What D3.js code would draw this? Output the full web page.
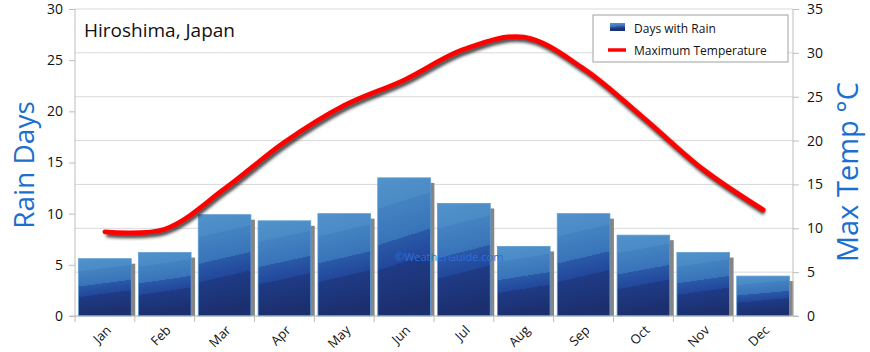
<!DOCTYPE html>
<html>
  <head>
    <meta charset="utf-8" />
    <title>Hiroshima climate</title>
    <script src="https://d3js.org/d3.v7.min.js"></script>
    <style>
      body {
        margin: 0;
        background-color: white;
      }
      text {
        font-family: "Open Sans", "DejaVu Sans", sans-serif;
      }
    </style>
  </head>
  <body>
    <svg id="chart"></svg>

    <script>

      // chart data
      var months = ["Jan", "Feb", "Mar", "Apr", "May", "Jun", "Jul", "Aug", "Sep", "Oct", "Nov", "Dec"];
      var rainDays = [5.6, 6.2, 9.9, 9.3, 10.0, 13.5, 11.0, 6.8, 10.0, 7.9, 6.2, 3.9];
      var maxTemp = [9.6, 9.9, 14.5, 19.8, 24.0, 26.9, 30.4, 31.8, 28.2, 22.6, 16.7, 12.1];
      var leftTicks = [0, 5, 10, 15, 20, 25, 30];
      var rightTicks = [0, 5, 10, 15, 20, 25, 30, 35];

      var width = 870;
      var height = 352;
      var margin = { top: 9, right: 77, bottom: 36, left: 75 };
      var plotRight = width - margin.right;
      var plotBottom = height - margin.bottom;

      var svg = d3.select("#chart")
        .attr("width", width)
        .attr("height", height);

      var defs = svg.append("defs");

      // bar fill, darker towards the bottom with slanted bands
      var grad = defs.append("linearGradient")
        .attr("id", "barGrad")
        .attr("x1", 0.12).attr("y1", 1)
        .attr("x2", 0).attr("y2", 0);
      var stops = [
        [0, "#1b2f6e"], [0.34, "#1f3b86"], [0.34, "#22479a"],
        [0.52, "#2a59a8"], [0.52, "#3873b8"], [0.78, "#4483c2"],
        [0.78, "#4a8ac6"], [1, "#5393cb"]
      ];
      stops.forEach(function(s) {
        grad.append("stop").attr("offset", s[0]).attr("stop-color", s[1]);
      });

      var blur = defs.append("filter").attr("id", "blur")
        .attr("x", "-10%").attr("y", "-10%").attr("width", "120%").attr("height", "120%");
      blur.append("feGaussianBlur").attr("stdDeviation", 1.6);

      var x = d3.scaleBand()
        .domain(months)
        .range([margin.left, plotRight])
        .paddingInner(0.12)
        .paddingOuter(0.06);

      var yLeft = d3.scaleLinear()
        .domain([0, 30])
        .range([plotBottom, margin.top]);

      var yRight = d3.scaleLinear()
        .domain([0, 35])
        .range([plotBottom, margin.top]);

      // grid lines follow the right axis
      svg.append("g")
        .selectAll("line")
        .data(rightTicks)
        .enter().append("line")
        .attr("x1", margin.left)
        .attr("x2", plotRight)
        .attr("y1", function(d) { return yRight(d); })
        .attr("y2", function(d) { return yRight(d); })
        .attr("stroke", "#d9d9d9");

      // bars with shadow
      var bars = svg.append("g");
      bars.selectAll(".shadow")
        .data(rainDays)
        .enter().append("rect")
        .attr("class", "shadow")
        .attr("x", function(d, i) { return x(months[i]) + 4; })
        .attr("y", function(d) { return yLeft(d) + 5; })
        .attr("width", x.bandwidth())
        .attr("height", function(d) { return plotBottom - yLeft(d) - 5; })
        .attr("fill", "#858585");

      bars.selectAll(".bar")
        .data(rainDays)
        .enter().append("rect")
        .attr("class", "bar")
        .attr("x", function(d, i) { return x(months[i]); })
        .attr("y", function(d) { return yLeft(d); })
        .attr("width", x.bandwidth())
        .attr("height", function(d) { return plotBottom - yLeft(d); })
        .attr("fill", "url(#barGrad)")
        .attr("stroke", "#5c9bd2")
        .attr("stroke-width", 0.8);

      // watermark
      svg.append("text")
        .attr("x", 395)
        .attr("y", 261)
        .attr("font-size", 11)
        .attr("fill", "#2c70dc")
        .text("©WeatherGuide.com");

      // axes lines
      svg.append("line")
        .attr("x1", margin.left).attr("x2", margin.left)
        .attr("y1", margin.top).attr("y2", plotBottom)
        .attr("stroke", "#bdbdbd");
      svg.append("line")
        .attr("x1", plotRight).attr("x2", plotRight)
        .attr("y1", margin.top).attr("y2", plotBottom)
        .attr("stroke", "#bdbdbd");
      svg.append("line")
        .attr("x1", margin.left - 5).attr("x2", plotRight + 5)
        .attr("y1", plotBottom).attr("y2", plotBottom)
        .attr("stroke", "#bdbdbd");

      var leftAxis = d3.axisLeft(yLeft).tickValues(leftTicks).tickSize(6).tickPadding(6);
      var gl = svg.append("g")
        .attr("transform", "translate(" + margin.left + ",0)")
        .call(leftAxis);

      var rightAxis = d3.axisRight(yRight).tickValues(rightTicks).tickSize(6).tickPadding(8);
      var gr = svg.append("g")
        .attr("transform", "translate(" + plotRight + ",0)")
        .call(rightAxis);

      [gl, gr].forEach(function(g) {
        g.select(".domain").remove();
        g.selectAll("line").attr("stroke", "#bdbdbd");
        g.selectAll("text")
          .attr("font-size", 14)
          .attr("fill", "#111")
          .style("font-family", "'Open Sans', sans-serif");
      });

      // month ticks between bars
      var step = x.step();
      svg.append("g")
        .selectAll("line")
        .data(months)
        .enter().append("line")
        .attr("x1", function(d) { return x(d) - step * x.paddingInner() / 2; })
        .attr("x2", function(d) { return x(d) - step * x.paddingInner() / 2; })
        .attr("y1", plotBottom)
        .attr("y2", plotBottom + 6)
        .attr("stroke", "#bdbdbd");

      svg.append("g")
        .selectAll("text")
        .data(months)
        .enter().append("text")
        .attr("transform", function(d) {
          return "translate(" + (x(d) + x.bandwidth() / 2 + 7) + "," + (plotBottom + 15) + ") rotate(-45)";
        })
        .attr("text-anchor", "end")
        .attr("font-size", 13)
        .attr("fill", "#111")
        .text(function(d) { return d; });

      // temperature line with its shadow
      var line = d3.line()
        .x(function(d, i) { return x(months[i]) + x.bandwidth() / 2; })
        .y(function(d) { return yRight(d); })
        .curve(d3.curveCatmullRom.alpha(0.5));

      svg.append("path")
        .datum(maxTemp)
        .attr("d", line)
        .attr("transform", "translate(1.5,3)")
        .attr("fill", "none")
        .attr("stroke", "#222")
        .attr("stroke-opacity", 0.8)
        .attr("stroke-width", 5)
        .attr("filter", "url(#blur)");

      svg.append("path")
        .datum(maxTemp)
        .attr("d", line)
        .attr("fill", "none")
        .attr("stroke", "#ff0000")
        .attr("stroke-width", 4.8)
        .attr("stroke-linecap", "round");

      // titles
      svg.append("text")
        .attr("x", 84)
        .attr("y", 37)
        .attr("font-size", 19)
        .attr("fill", "#111")
        .text("Hiroshima, Japan");

      svg.append("text")
        .attr("transform", "translate(34,165) rotate(-90)")
        .attr("text-anchor", "middle")
        .attr("font-size", 28)
        .attr("fill", "#1a6fd0")
        .text("Rain Days");

      svg.append("text")
        .attr("transform", "translate(858,172) rotate(-90)")
        .attr("text-anchor", "middle")
        .attr("font-size", 29)
        .attr("fill", "#1a6fd0")
        .text("Max Temp °C");

      // legend
      var legend = svg.append("g");
      legend.append("rect")
        .attr("x", 593).attr("y", 15)
        .attr("width", 195).attr("height", 47)
        .attr("fill", "white")
        .attr("stroke", "#a0a0a0");
      legend.append("rect")
        .attr("x", 610).attr("y", 23)
        .attr("width", 15).attr("height", 8)
        .attr("fill", "url(#barGrad)");
      legend.append("text")
        .attr("x", 634).attr("y", 33)
        .attr("font-size", 12)
        .attr("fill", "#111")
        .text("Days with Rain");
      legend.append("line")
        .attr("x1", 608).attr("x2", 626)
        .attr("y1", 50).attr("y2", 50)
        .attr("stroke", "#ff0000")
        .attr("stroke-width", 3.5);
      legend.append("text")
        .attr("x", 634).attr("y", 55)
        .attr("font-size", 12)
        .attr("fill", "#111")
        .text("Maximum Temperature");

    </script>
  </body>
</html>
